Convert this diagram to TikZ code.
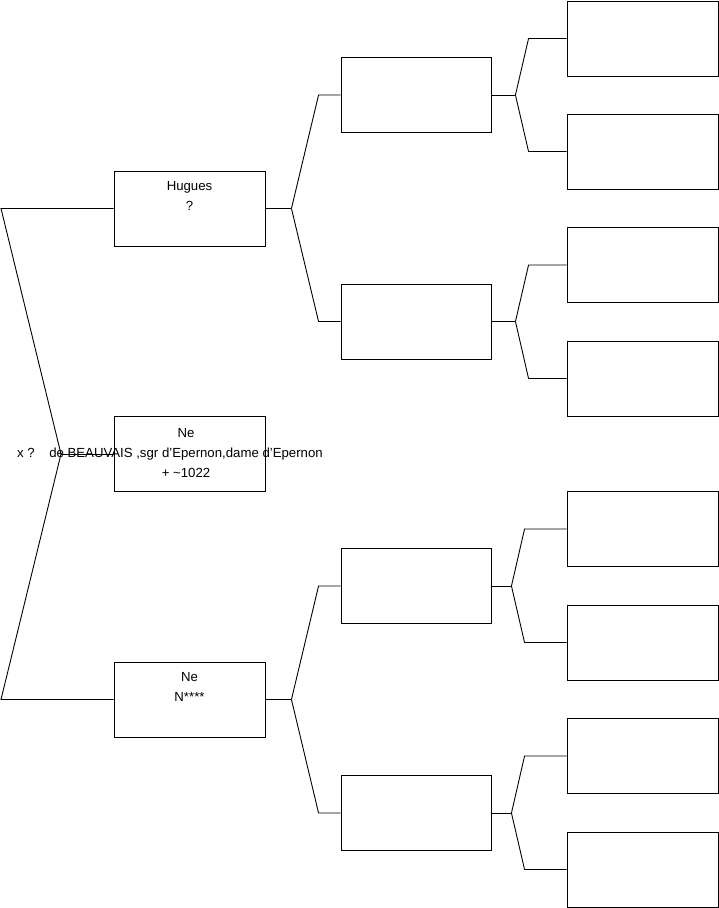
\documentclass[tikz,border=0pt]{standalone}
\usepackage{fontspec}
\setmainfont{Liberation Sans}
\usetikzlibrary{positioning}

\begin{document}
\begin{tikzpicture}[x=1pt, y=-1pt, every node/.style={font=\fontsize{13.2}{20}\selectfont}, box/.style={draw, line width=0.9pt, minimum width=151pt, minimum height=75pt, inner sep=0pt}, txt/.style={align=center, anchor=north, inner sep=0pt}, ln/.style={line width=0.9pt}]
	\useasboundingbox (0,0) rectangle (719,908);
	% generation 1
	\node[box] (hugues) at (189.5,208.5) {};
	\node[box] (beauvais) at (189.5,454) {};
	\node[box] (nstar) at (189.5,699.5) {};
	\node[txt, below=10.5pt of hugues.north] (thugues) {Hugues\\ ?};
	\node[txt, below=12.5pt of beauvais.north, xshift=-3.5pt] (tbeauvais) {Ne\\ de BEAUVAIS ,sgr d'Epernon,dame d'Epernon\\ + \textasciitilde1022};
	\node[txt, below=10.5pt of nstar.north] (tnstar) {Ne\\ N****};
	\node (xq) at (26,452.5) {x ?};
	% generation 2 and 3
	\foreach \n/\y in {q1/95, q2/321.5, q3/586, q4/813} {\node[box, minimum width=150pt] (\n) at (416,\y) {};}
	\foreach \n/\y in {r1/38.5, r2/151.5, r3/265, r4/378.5, r5/529, r6/642.5, r7/756, r8/869.5} {\node[box] (\n) at (642.5,\y) {};}
	% fork of the first generation
	\coordinate (f0) at (1,208.5);
	\coordinate (f1) at (61,454);
	\coordinate (f2) at (1,699.5);
	\draw[ln] (hugues.west) -- (f0) -- (f1) -- (f2) -- (nstar.west);
	\draw[ln] (f1) -- (beauvais.west);
	% forks to the parents
	\foreach \p/\a/\b/\s/\t in {hugues/q1/q2/26/22, nstar/q3/q4/26/22, q1/r1/r2/24/38, q2/r3/r4/24/38, q3/r5/r6/20/42, q4/r7/r8/20/42} {
		\coordinate (\p-v) at ([xshift=\s pt]\p.east);
		\draw[ln] (\p.east) -- (\p-v);
		\draw[ln] (\p-v) -- ([xshift=-\t pt]\a.west) -- (\a.west);
		\draw[ln] (\p-v) -- ([xshift=-\t pt]\b.west) -- (\b.west);
	}
\end{tikzpicture}
\end{document}
